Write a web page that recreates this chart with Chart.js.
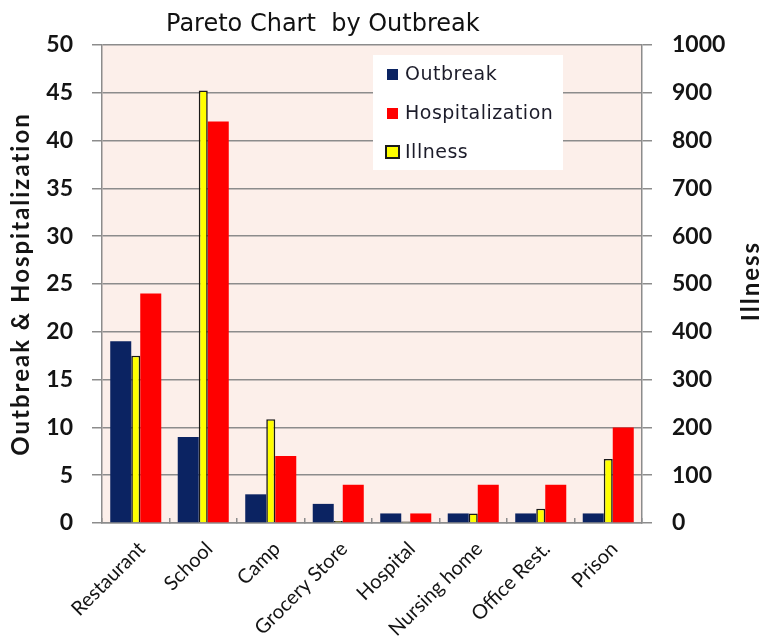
<!DOCTYPE html>
<html>
<head>
<meta charset="utf-8">
<script src="https://cdn.jsdelivr.net/npm/chart.js@4"></script>
<style>
  html, body { margin: 0; padding: 0; background: #ffffff; }
  #wrap { width: 768px; height: 636px; }
</style>
</head>
<body>
<div id="wrap"><canvas id="chart" width="768" height="636"></canvas></div>
<script>
// Outbreak settings and their counts
const categories = ['Restaurant', 'School', 'Camp', 'Grocery Store', 'Hospital', 'Nursing home', 'Office Rest.', 'Prison'];
const outbreak = [19, 9, 3, 2, 1, 1, 1, 1];
const hospitalization = [24, 42, 7, 4, 1, 4, 4, 10];
const illness = [350, 905, 217, 4, 3, 20, 30, 134];

// Axis tick labels
const leftTicks = [0, 5, 10, 15, 20, 25, 30, 35, 40, 45, 50];
const rightTicks = [0, 100, 200, 300, 400, 500, 600, 700, 800, 900, 1000];

const NAVY = '#0b2362';
const RED = '#ff0000';
const YELLOW = '#ffff00';
const GRID = '#8c8c8c';
const TEXT = '#141414';

// Pale plot background
const plotBackground = {
  id: 'plotBackground',
  beforeDraw(chart) {
    const { ctx, chartArea: a } = chart;
    ctx.save();
    ctx.fillStyle = '#fcefea';
    ctx.fillRect(a.left, a.top, a.right - a.left, a.bottom - a.top);
    ctx.restore();
  }
};

// Title, axis titles and the legend box
const decorations = {
  id: 'decorations',
  afterDraw(chart) {
    const { ctx, chartArea: a } = chart;
    const midY = (a.top + a.bottom) / 2;
    ctx.save();

    // title
    ctx.fillStyle = '#111111';
    ctx.font = '24px "DejaVu Sans"';
    ctx.textAlign = 'left';
    ctx.textBaseline = 'alphabetic';
    ctx.fillText('Pareto Chart  by Outbreak', 166, 31);

    // primary axis title, reading bottom to top
    ctx.letterSpacing = '2px';
    ctx.font = 'bold 24px Lato';
    ctx.textAlign = 'center';
    ctx.textBaseline = 'middle';
    ctx.fillStyle = TEXT;
    ctx.save();
    ctx.translate(21, midY);
    ctx.rotate(-Math.PI / 2);
    ctx.fillText('Outbreak & Hospitalization', 0, 0);
    ctx.restore();

    // secondary axis title, also reading bottom to top
    ctx.save();
    ctx.translate(chart.width - 17, midY - 3);
    ctx.rotate(-Math.PI / 2);
    ctx.fillText('Illness', 0, 0);
    ctx.restore();

    // legend
    const bx = a.left + 271, by = a.top + 10, bw = 190, bh = 115;
    ctx.fillStyle = '#ffffff';
    ctx.fillRect(bx, by, bw, bh);
    const ds = chart.data.datasets;
    const order = [0, 2, 1];
    const rows = [19, 58, 97];
    ctx.letterSpacing = '0.5px';
    ctx.font = '19px "DejaVu Sans"';
    ctx.textAlign = 'left';
    ctx.textBaseline = 'middle';
    order.forEach((di, i) => {
      const d = ds[di];
      const cy = by + rows[i];
      if (d.borderWidth) {
        ctx.fillStyle = d.backgroundColor;
        ctx.fillRect(bx + 13, cy - 6, 13, 12);
        ctx.strokeStyle = d.borderColor;
        ctx.lineWidth = 2;
        ctx.strokeRect(bx + 13, cy - 6, 13, 12);
      } else {
        ctx.fillStyle = d.backgroundColor;
        ctx.fillRect(bx + 14, cy - 5, 11, 11);
      }
      ctx.fillStyle = '#1c1c2a';
      ctx.fillText(d.label, bx + 32, cy + 1);
    });
    ctx.restore();
  }
};

new Chart(document.getElementById('chart'), {
  type: 'bar',
  data: {
    labels: categories,
    datasets: [
      { label: 'Outbreak', data: outbreak, yAxisID: 'y', backgroundColor: NAVY, barPercentage: 1.4, categoryPercentage: 0.667 },
      { label: 'Illness', data: illness, yAxisID: 'y1', backgroundColor: YELLOW, borderColor: '#1a1a1a', borderWidth: 1.6, barPercentage: 0.6, categoryPercentage: 0.667 },
      { label: 'Hospitalization', data: hospitalization, yAxisID: 'y', backgroundColor: RED, barPercentage: 1.4, categoryPercentage: 0.667 }
    ]
  },
  options: {
    responsive: false,
    animation: false,
    devicePixelRatio: 1,
    layout: { padding: { top: 45, left: 0, right: 0, bottom: 0 } },
    plugins: { legend: { display: false }, title: { display: false }, tooltip: { enabled: false } },
    scales: {
      x: {
        offset: true,
        grid: { display: true, drawOnChartArea: false, offset: true, color: GRID, lineWidth: 1.5, tickLength: -5 },
        border: { display: true, color: GRID, width: 1.5 },
        ticks: { minRotation: 45, maxRotation: 45, autoSkip: false, padding: 19, labelOffset: 6, color: TEXT, font: { family: 'Lato', size: 20 } },
        afterFit(s) { s.height = 113; }
      },
      y: {
        position: 'left',
        min: leftTicks[0],
        max: leftTicks[leftTicks.length - 1],
        afterBuildTicks(s) { s.ticks = leftTicks.map(v => ({ value: v })); },
        grid: { color: GRID, lineWidth: 1.5, tickLength: 10 },
        border: { display: true, color: GRID, width: 1.5 },
        ticks: { padding: 19, color: TEXT, font: { family: 'Lato', size: 23, weight: 'bold' }, callback: v => String(v) },
        afterFit(s) { s.width = 102; }
      },
      y1: {
        position: 'right',
        min: rightTicks[0],
        max: rightTicks[rightTicks.length - 1],
        afterBuildTicks(s) { s.ticks = rightTicks.map(v => ({ value: v })); },
        grid: { drawOnChartArea: false, color: GRID, lineWidth: 1.5, tickLength: 10 },
        border: { display: true, color: GRID, width: 1.5 },
        ticks: { padding: 20, color: TEXT, font: { family: 'Lato', size: 23, weight: 'bold' }, callback: v => String(v) },
        afterFit(s) { s.width = 126; }
      }
    }
  },
  plugins: [plotBackground, decorations]
});
</script>
</body>
</html>
